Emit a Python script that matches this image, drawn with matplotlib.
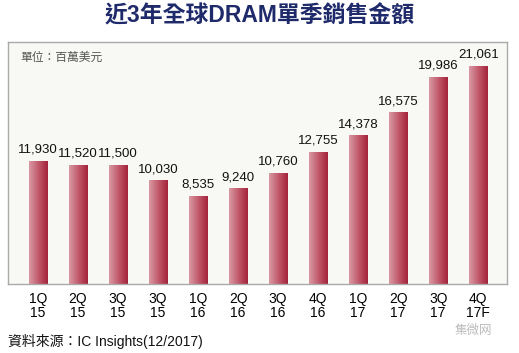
import matplotlib.pyplot as plt
import numpy as np
from matplotlib.colors import LinearSegmentedColormap

plt.rcParams['font.family'] = ['Liberation Sans', 'Noto Sans CJK TC', 'DejaVu Sans']

quarters = ['1Q\n15', '2Q\n15', '3Q\n15', '3Q\n15', '1Q\n16', '2Q\n16',
            '3Q\n16', '4Q\n16', '1Q\n17', '2Q\n17', '3Q\n17', '4Q\n17F']
sales = [11930, 11520, 11500, 10030, 8535, 9240,
         10760, 12755, 14378, 16575, 19986, 21061]

fig = plt.figure(figsize=(5.19, 3.53), dpi=100)
ax = fig.add_axes([8 / 519, 69 / 353, 499 / 519, 242 / 353])
ax.set_facecolor('#f8f8f4')
for s in ax.spines.values():
    s.set_color('#aaaaaa')
    s.set_linewidth(1.0)

cmap = LinearSegmentedColormap.from_list('bar', ['#d99aa4', '#c25a6c', '#a3233a'])
grad = np.linspace(0, 1, 64).reshape(1, -1)
width = 0.45
x = np.arange(len(sales))
bars = ax.bar(x, sales, width=width, color='none', edgecolor='none')
for b, v in zip(bars, sales):
    im = ax.imshow(grad, cmap=cmap, aspect='auto', interpolation='bicubic',
                   extent=[b.get_x(), b.get_x() + b.get_width(), 0, v], zorder=2)
    im.set_clip_path(b)
    ax.text(b.get_x() + b.get_width() / 2, v + 500, f'{v:,}', ha='center', va='bottom',
            fontsize=9.5, color='#111111')

ax.set_xlim(-0.75, 11.72)
ax.set_ylim(0, 23380)
ax.set_xticks(x)
ax.set_xticklabels(quarters, fontsize=10, linespacing=0.95)
ax.tick_params(axis='x', length=0, pad=6)
ax.set_yticks([])

ax.text(0.025, 0.96, '單位：百萬美元', transform=ax.transAxes, fontsize=8.5,
        color='#555555', va='top', ha='left')

fig.text(0.5, 0.955, '近3年全球DRAM單季銷售金額', ha='center', va='center',
         fontsize=16.5, fontweight='bold', color='#1f2a6b')
fig.text(8 / 519, 12 / 353, '資料來源：IC Insights(12/2017)', ha='left', va='center',
         fontsize=10, color='#111111')
fig.text(455 / 519, 22 / 353, '集微网', ha='left', va='center', fontsize=9,
         color='#bbbbbb')

fig.savefig('out.png', dpi=100)
